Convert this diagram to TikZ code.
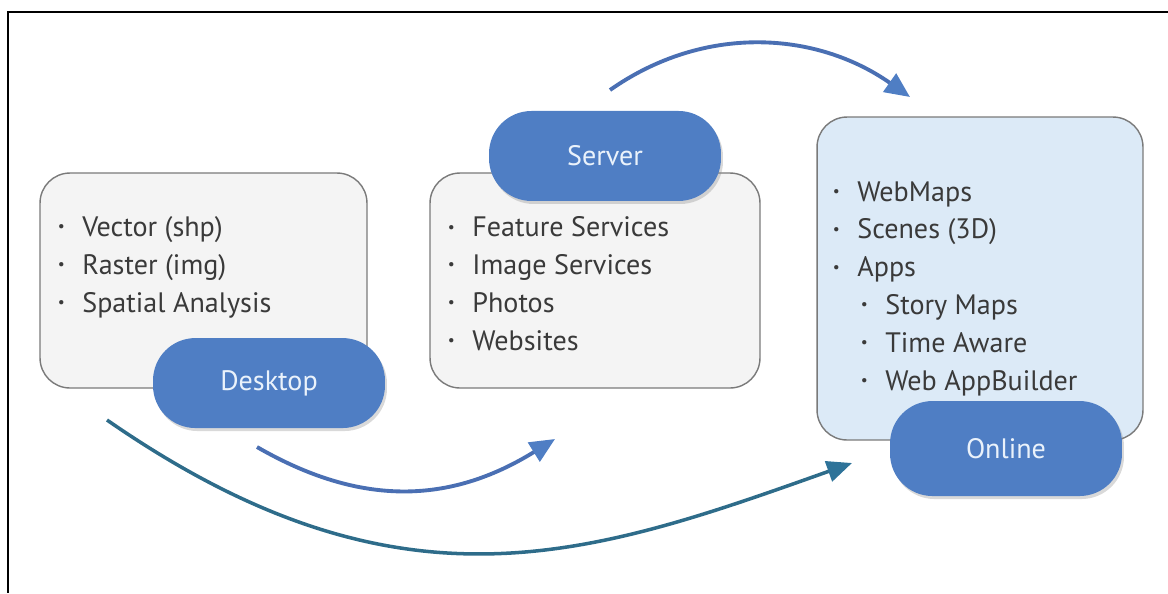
\documentclass[tikz,border=0pt]{standalone}
\usepackage{fontspec}
\setmainfont{PT Sans}
\usetikzlibrary{positioning, arrows.meta, shadows}
\definecolor{tagblue}{HTML}{4F7EC4}
\definecolor{tagtext}{HTML}{EAF2FB}
\definecolor{boxgray}{HTML}{F4F4F4}
\definecolor{boxline}{HTML}{7A7A7A}
\definecolor{onlinefill}{HTML}{DCEAF7}
\definecolor{listtext}{HTML}{3A3A3A}
\definecolor{flowblue}{HTML}{4A6FB3}
\definecolor{flowteal}{HTML}{2E6C8A}
\definecolor{tealhead}{HTML}{2E7399}
\newcommand{\itemdot}[1]{\makebox[0.49cm][l]{\raisebox{0.16em}{\scalebox{0.55}{\textbullet}}}#1}
\newcommand{\subdot}[1]{\hspace*{0.56cm}\itemdot{#1}}

\begin{document}
\begin{tikzpicture}[x=0.02cm, y=-0.02cm,
	panel/.style={draw=boxline, line width=0.8pt, fill=boxgray, rounded corners=0.6cm, minimum height=4.3cm},
	tag/.style={fill=tagblue, rounded corners=0.85cm, minimum width=4.64cm, minimum height=1.8cm, text=tagtext, font=\fontsize{16}{19}\selectfont, drop shadow={opacity=0.3, shadow xshift=0.04cm, shadow yshift=-0.06cm}},
	items/.style={anchor=base west, inner sep=0pt, align=left, text=listtext, font=\fontsize{16}{21.5}\selectfont},
	flow/.style={line width=2.2pt, draw=flowblue, -{Triangle[length=0.5cm, width=0.44cm, color=tagblue]}}]
	\useasboundingbox (0,0) rectangle (1168,593);
	\draw[line width=1.1pt] (1168,12) -- (8,12) -- (8,593);
	
	\node[panel, minimum width=6.54cm] (box1) at (203.5,280.5) {};
	\node[panel, minimum width=6.6cm] (box2) at (595,280.5) {};
	\node[panel, fill=onlinefill, minimum width=6.52cm, minimum height=6.46cm] (box3) at (980,278.5) {};
	
	% base anchor sits on the last line
	\node[items] (list1) at (57.5,312) {\itemdot{Vector (shp)}\\ \itemdot{Raster (img)}\\ \itemdot{Spatial Analysis}};
	\node[items] (list2) at (447.5,350) {\itemdot{Feature Services}\\ \itemdot{Image Services}\\ \itemdot{Photos}\\ \itemdot{Websites}};
	\node[items] (list3) at (832.5,390) {\itemdot{WebMaps}\\ \itemdot{Scenes (3D)}\\ \itemdot{Apps}\\ \subdot{Story Maps}\\ \subdot{Time Aware}\\ \subdot{Web AppBuilder}};
	
	\node[tag, below=-1.02cm of box1, xshift=1.31cm] (tag1) {Desktop};
	\node[tag, above=-0.58cm of box2, xshift=0.2cm] (tag2) {Server};
	\node[tag, below=-0.8cm of box3, xshift=0.52cm, minimum height=1.9cm] (tag3) {Online};
	
	\coordinate (a1) at (610,90);
	\coordinate (a2) at (910,97);
	\coordinate (b1) at (257,447);
	\coordinate (b2) at (555,439);
	\coordinate (c1) at (107,420);
	\coordinate (c2) at (852,463);
	
	\draw[flow] (a1) .. controls (704,24) and (816,31) .. (a2);
	\draw[flow] (b1) .. controls (361,507) and (450,504) .. (b2);
	\draw[flow, draw=flowteal, line width=2pt, -{Triangle[length=0.5cm, width=0.42cm, color=tealhead]}] (c1) .. controls (400,623) and (588,557) .. (c2);
	
\end{tikzpicture}
\end{document}
